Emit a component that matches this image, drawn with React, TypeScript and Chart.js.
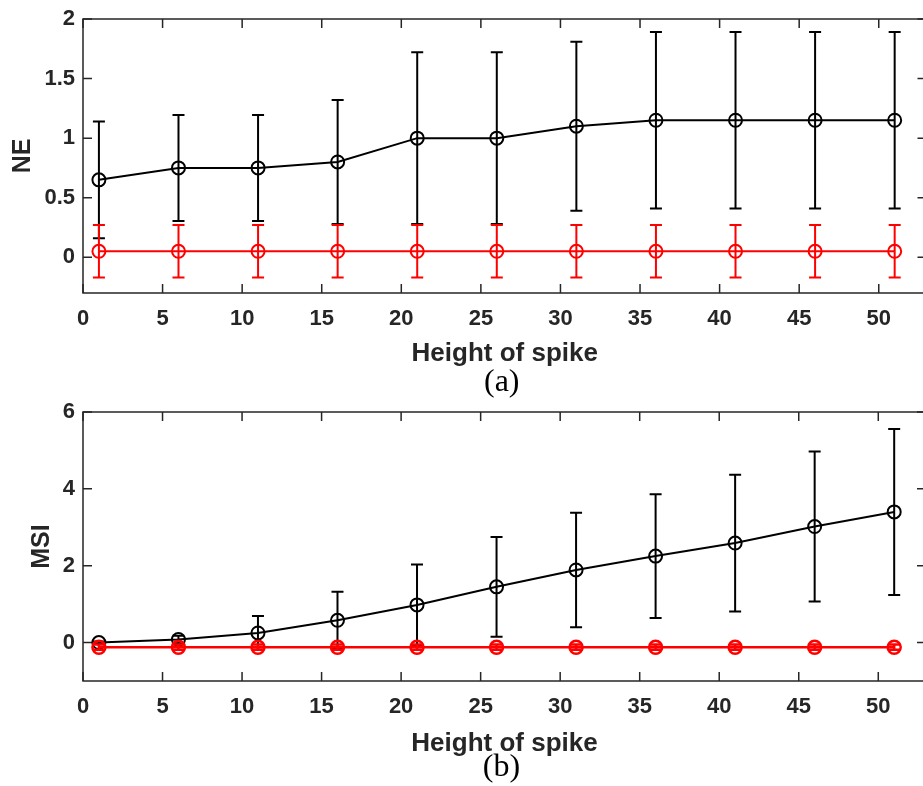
import React, { useEffect, useRef } from "react";
import { Chart, registerables } from "chart.js";

Chart.register(...registerables);

// ---------- data ----------
const spikeHeights = [1, 6, 11, 16, 21, 26, 31, 36, 41, 46, 51];

const neBlackMean = [0.65, 0.75, 0.75, 0.8, 1.0, 1.0, 1.1, 1.15, 1.15, 1.15, 1.15];
const neBlackErr = [0.49, 0.445, 0.445, 0.52, 0.72, 0.72, 0.71, 0.74, 0.74, 0.74, 0.74];
const neRedMean = [0.05, 0.05, 0.05, 0.05, 0.05, 0.05, 0.05, 0.05, 0.05, 0.05, 0.05];
const neRedErr = [0.22, 0.22, 0.22, 0.22, 0.22, 0.22, 0.22, 0.22, 0.22, 0.22, 0.22];

const msiBlackMean = [0.0, 0.08, 0.25, 0.58, 0.98, 1.45, 1.89, 2.25, 2.59, 3.02, 3.4];
const msiBlackErr = [0.03, 0.1, 0.44, 0.74, 1.05, 1.3, 1.49, 1.61, 1.78, 1.95, 2.16];
const msiRedMean = [-0.12, -0.12, -0.12, -0.12, -0.12, -0.12, -0.12, -0.12, -0.12, -0.12, -0.12];
const msiRedErr = [0.07, 0.07, 0.07, 0.07, 0.07, 0.07, 0.07, 0.07, 0.07, 0.07, 0.07];

const xAxisRange = [0, 53];
const xTickStep = 5;
const neRange = [-0.3, 2];
const neTickStep = 0.5;
const msiRange = [-1, 6];
const msiTickStep = 2;

const xTitle = "Height of spike";
const neTitle = "NE";
const msiTitle = "MSI";
const captionA = "(a)";
const captionB = "(b)";

// ---------- styles ----------
const AXIS_COLOR = "#262626";
const SANS = "'Liberation Sans', Arial, sans-serif";
const SERIF = "'Liberation Serif', 'Times New Roman', serif";

const errorBarPlugin = {
  id: "errorBars",
  beforeDatasetDraw(chart: any, args: any) {
    const ds = chart.data.datasets[args.index];
    const errs: number[] | undefined = ds.errors;
    if (!errs) return;
    const xs = chart.scales.x;
    const ys = chart.scales.y;
    const ctx = chart.ctx;
    const cap = 6;
    ctx.save();
    ctx.strokeStyle = ds.borderColor;
    ctx.lineWidth = ds.errorLineWidth || 2;
    ds.data.forEach((p: any, i: number) => {
      const px = xs.getPixelForValue(p.x);
      const top = ys.getPixelForValue(p.y + errs[i]);
      const bot = ys.getPixelForValue(p.y - errs[i]);
      ctx.beginPath();
      ctx.moveTo(px, top);
      ctx.lineTo(px, bot);
      ctx.moveTo(px - cap, top);
      ctx.lineTo(px + cap, top);
      ctx.moveTo(px - cap, bot);
      ctx.lineTo(px + cap, bot);
      ctx.stroke();
    });
    ctx.restore();
  },
};

const boxPlugin = {
  id: "matlabBox",
  beforeDatasetsDraw(chart: any) {
    const { ctx, chartArea: a, scales } = chart;
    const tl = 9;
    ctx.save();
    ctx.strokeStyle = AXIS_COLOR;
    ctx.lineWidth = 1.5;
    ctx.strokeRect(a.left, a.top, a.right - a.left, a.bottom - a.top);
    ctx.beginPath();
    scales.x.ticks.forEach((t: any) => {
      const px = scales.x.getPixelForValue(t.value);
      ctx.moveTo(px, a.bottom);
      ctx.lineTo(px, a.bottom - tl);
      ctx.moveTo(px, a.top);
      ctx.lineTo(px, a.top + tl);
    });
    scales.y.ticks.forEach((t: any) => {
      const py = scales.y.getPixelForValue(t.value);
      ctx.moveTo(a.left, py);
      ctx.lineTo(a.left + tl, py);
      ctx.moveTo(a.right, py);
      ctx.lineTo(a.right - tl, py);
    });
    ctx.stroke();
    ctx.restore();
  },
};

const captionPlugin = {
  id: "caption",
  afterDraw(chart: any, _args: any, opts: any) {
    if (!opts || !opts.text) return;
    const { ctx, chartArea: a } = chart;
    ctx.save();
    ctx.fillStyle = "#000";
    ctx.font = `32px ${SERIF}`;
    ctx.textAlign = "center";
    ctx.textBaseline = "middle";
    ctx.fillText(opts.text, (a.left + a.right) / 2 - 3, a.bottom + opts.offset);
    ctx.restore();
  },
};

function makeDataset(means: number[], errs: number[], color: string, width: number) {
  return {
    data: spikeHeights.map((x, i) => ({ x, y: means[i] })),
    errors: errs,
    errorLineWidth: width,
    showLine: true,
    borderColor: color,
    borderWidth: width,
    pointRadius: 6.5,
    pointBorderWidth: width,
    pointBorderColor: color,
    pointBackgroundColor: "rgba(0,0,0,0)",
    pointHoverRadius: 6.5,
  };
}

type PanelProps = {
  datasets: any[];
  yRange: number[];
  yStep: number;
  yTitle: string;
  caption: string;
  canvasHeight: number;
  padLeft: number;
  padTop: number;
  yWidth: number;
  xHeight: number;
  xTitlePad: number;
  captionOffset: number;
};

const fmt = (v: any) => String(Math.round(Number(v) * 1000) / 1000);

function Panel(p: PanelProps) {
  const ref = useRef<HTMLCanvasElement | null>(null);
  useEffect(() => {
    if (!ref.current) return;
    const chart = new Chart(ref.current, {
      type: "scatter",
      data: { datasets: p.datasets },
      plugins: [boxPlugin, errorBarPlugin, captionPlugin],
      options: {
        animation: false,
        responsive: false,
        events: [],
        layout: { padding: { top: p.padTop, right: 8, left: p.padLeft, bottom: 0 } },
        plugins: {
          legend: { display: false },
          tooltip: { enabled: false },
          caption: { text: p.caption, offset: p.captionOffset },
        } as any,
        scales: {
          x: {
            type: "linear",
            min: xAxisRange[0],
            max: xAxisRange[1],
            grid: { display: false, drawTicks: false },
            border: { display: false },
            ticks: {
              stepSize: xTickStep,
              includeBounds: false,
              padding: 15,
              color: AXIS_COLOR,
              callback: fmt,
              font: { family: SANS, size: 22, weight: "bold", lineHeight: 1 },
            },
            title: {
              display: true,
              text: xTitle,
              color: AXIS_COLOR,
              font: { family: SANS, size: 26, weight: "bold", lineHeight: 1.2 },
              padding: { top: 0, bottom: p.xTitlePad },
            },
            afterFit(scale: any) {
              scale.height = p.xHeight;
            },
          },
          y: {
            type: "linear",
            min: p.yRange[0],
            max: p.yRange[1],
            grid: { display: false, drawTicks: false },
            border: { display: false },
            ticks: {
              stepSize: p.yStep,
              includeBounds: false,
              padding: 8,
              color: AXIS_COLOR,
              callback: fmt,
              font: { family: SANS, size: 22, weight: "bold", lineHeight: 1 },
            },
            title: {
              display: true,
              text: p.yTitle,
              color: AXIS_COLOR,
              font: { family: SANS, size: 25, weight: "bold", lineHeight: 1.2 },
              padding: { top: 4, bottom: 4 },
            },
            afterFit(scale: any) {
              scale.width = p.yWidth;
            },
          },
        },
      } as any,
    });
    return () => chart.destroy();
  }, []);
  return <canvas ref={ref} width={935} height={p.canvasHeight} style={{ display: "block" }} />;
}

export default function App() {
  const topSets = [
    makeDataset(neRedMean, neRedErr, "#ff0000", 2),
    makeDataset(neBlackMean, neBlackErr, "#000000", 2),
  ];
  const bottomSets = [
    makeDataset(msiRedMean, msiRedErr, "#ff0000", 2.5),
    makeDataset(msiBlackMean, msiBlackErr, "#000000", 2),
  ];
  return (
    <div
      style={{
        position: "absolute",
        left: 0,
        top: 0,
        width: 923,
        height: 786,
        overflow: "hidden",
        background: "#ffffff",
      }}
    >
      <div style={{ position: "absolute", left: 0, top: 0 }}>
        <Panel
          datasets={topSets}
          yRange={neRange}
          yStep={neTickStep}
          yTitle={neTitle}
          caption={captionA}
          canvasHeight={403}
          padLeft={4}
          padTop={16}
          yWidth={79}
          xHeight={110}
          xTitlePad={34}
          captionOffset={90}
        />
      </div>
      <div style={{ position: "absolute", left: 0, top: 393 }}>
        <Panel
          datasets={bottomSets}
          yRange={msiRange}
          yStep={msiTickStep}
          yTitle={msiTitle}
          caption={captionB}
          canvasHeight={393}
          padLeft={23}
          padTop={13}
          yWidth={60}
          xHeight={105}
          xTitlePad={27}
          captionOffset={87}
        />
      </div>
    </div>
  );
}
